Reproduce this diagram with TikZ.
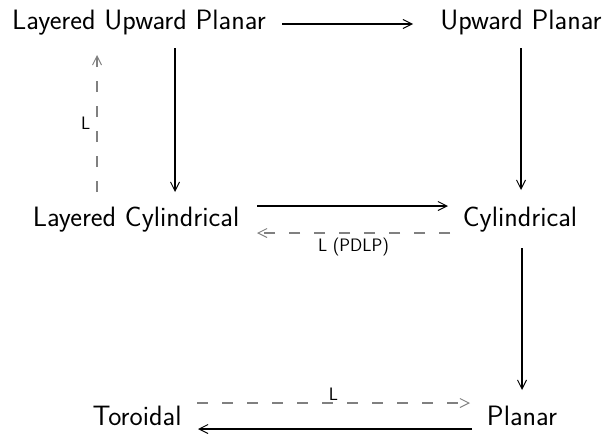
\documentclass[tikz,border=0pt]{standalone}
\usetikzlibrary{arrows.meta}
\begin{document}
\begin{tikzpicture}[x=1pt,y=1pt,
  cls/.style={font=\sffamily\fontsize{28}{32}\selectfont, inner sep=0pt, anchor=base},
  lbl/.style={font=\sffamily\fontsize{18}{20}\selectfont, inner sep=1pt, text=black},
  tip/.style={-{Straight Barb[length=9pt,width=9pt,line width=1pt]}},
  imp/.style={line width=1.9pt, tip},
  lim/.style={line width=1.4pt, gray, dash pattern=on 11pt off 14pt, tip}]
\useasboundingbox (0,0) rectangle (608,-434);
% graph classes (placed on their baselines)
\node[cls] (lup)  at (139,-29)  {Layered Upward Planar};
\node[cls] (up)   at (521,-29)  {Upward Planar};
\node[cls] (lcyl) at (136,-226) {Layered Cylindrical};
\node[cls] (cyl)  at (520,-226) {Cylindrical};
\node[cls] (tor)  at (137,-425) {Toroidal};
\node[cls] (pla)  at (522,-425) {Planar};
% inclusions
\draw[imp] ([shift={(143,5)}]lup.base) -- ([shift={(-108,5)}]up.base);
\draw[imp] ([shift={(36,-19)}]lup.base) -- ([shift={(39,34)}]lcyl.base);
\draw[imp] ([shift={(0,-19)}]up.base) -- ([shift={(1,36)}]cyl.base);
\draw[imp] ([shift={(121,20)}]lcyl.base) -- ([shift={(-72,20)}]cyl.base);
\draw[imp] ([shift={(2,-22)}]cyl.base) -- ([shift={(0,35)}]pla.base);
\draw[imp] ([shift={(-50,-4)}]pla.base) -- ([shift={(61,-4)}]tor.base);
% reductions
\draw[lim] ([shift={(-39,34)}]lcyl.base) -- node[lbl,left=5pt] {L} ([shift={(-42,-26)}]lup.base);
\draw[lim] ([shift={(-70,-7)}]cyl.base) -- node[lbl,below=3pt] {L (PDLP)} ([shift={(121,-7)}]lcyl.base);
\draw[lim] ([shift={(60,22)}]tor.base) -- node[lbl,above=1pt] {L} ([shift={(-52,22)}]pla.base);
\end{tikzpicture}
\end{document}
